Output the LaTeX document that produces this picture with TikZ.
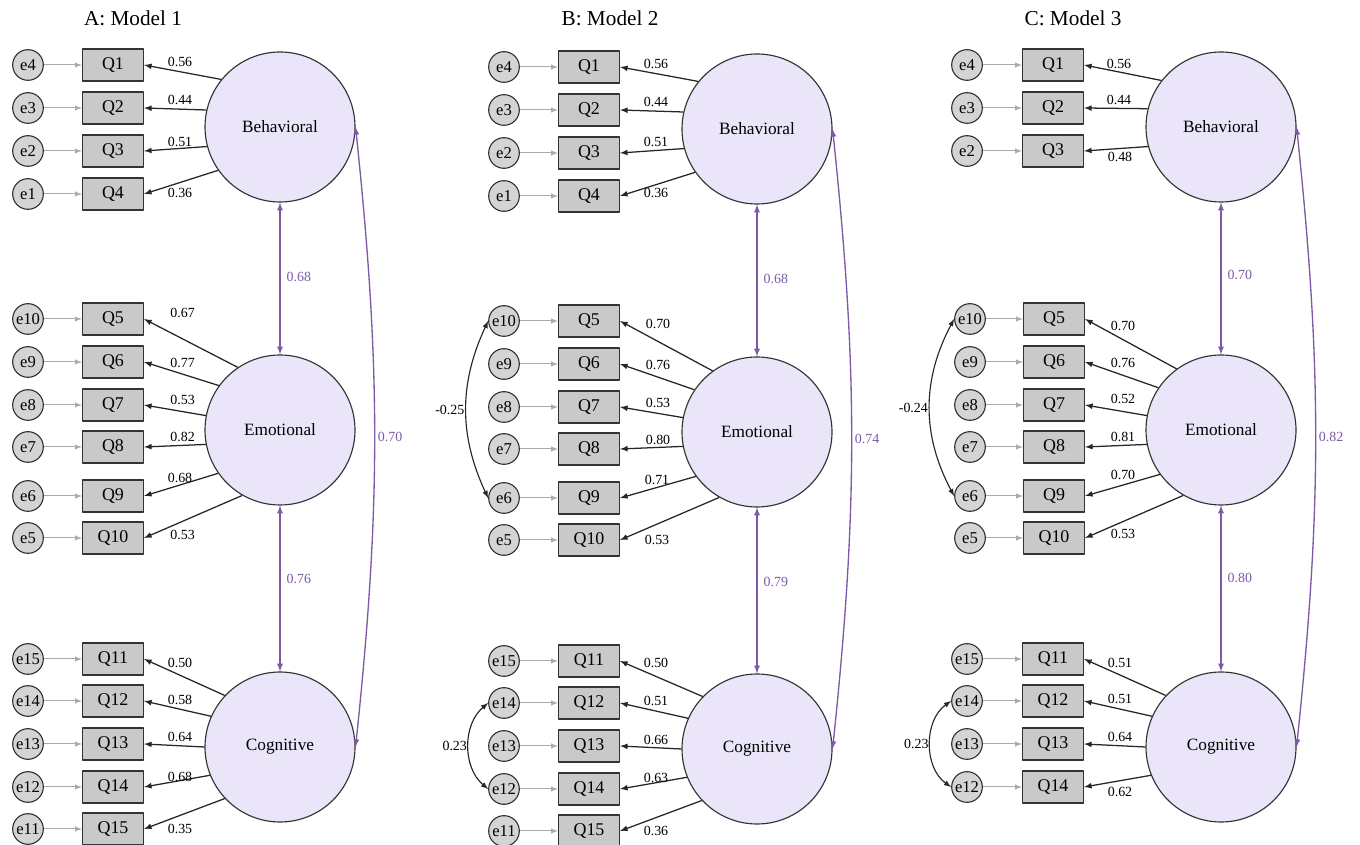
\documentclass[tikz,border=0pt]{standalone}
\usepackage{fontspec}
\setmainfont{Liberation Serif}
\definecolor{factfill}{HTML}{EAE5F9}
\definecolor{boxfill}{HTML}{C9C9C9}
\definecolor{errfill}{HTML}{D4D4D4}
\definecolor{edgedark}{HTML}{333333}
\definecolor{errline}{HTML}{ABABAB}
\definecolor{corrpurple}{HTML}{7D5AA6}
\begin{document}
\begin{tikzpicture}[>=latex,line join=bevel,
  factor/.style={circle,draw=edgedark,line width=0.85bp,fill=factfill,minimum size=112.5bp,inner sep=0pt,font=\fontsize{13}{15}\selectfont},
  item/.style={rectangle,draw=edgedark,line width=0.85bp,fill=boxfill,minimum width=45.75bp,minimum height=24bp,inner sep=0pt,font=\fontsize{13.5}{15}\selectfont},
  err/.style={circle,draw=edgedark,line width=0.85bp,fill=errfill,minimum size=23bp,inner sep=0pt,font=\fontsize{12.5}{13}\selectfont},
  title/.style={font=\fontsize{16}{18}\selectfont},
  load/.style={font=\fontsize{10.5}{12}\selectfont},
  corrlab/.style={font=\fontsize{10.5}{12}\selectfont,text=corrpurple},
  errarrow/.style={->,draw=errline,line width=0.75bp},
  loadarrow/.style={->,draw=black!85,line width=0.95bp},
  corrarrow/.style={<->,draw=corrpurple,line width=1bp},
  covarrow/.style={<->,draw=black!85,line width=0.85bp},
]
\useasboundingbox (0bp,0bp) rectangle (1020bp,633.75bp);
%% A: Model 1
\node (title_a) at (99.75bp,620.25bp) [title] {A: Model 1};
\node (beh_a) at (210bp,538.5bp) [factor] {Behavioral};
\node (emo_a) at (210bp,311.25bp) [factor] {Emotional};
\node (cog_a) at (210bp,73.5bp) [factor] {Cognitive};
%
\node (q1_a) at (84.75bp,585bp) [item] {Q1};
\node (q2_a) at (84.75bp,552.75bp) [item] {Q2};
\node (q3_a) at (84.75bp,520.5bp) [item] {Q3};
\node (q4_a) at (84.75bp,488.25bp) [item] {Q4};
\node (q5_a) at (84.75bp,394.5bp) [item] {Q5};
\node (q6_a) at (84.75bp,362.25bp) [item] {Q6};
\node (q7_a) at (84.75bp,330bp) [item] {Q7};
\node (q8_a) at (84.75bp,298.5bp) [item] {Q8};
\node (q9_a) at (84.75bp,261.75bp) [item] {Q9};
\node (q10_a) at (84.75bp,230.25bp) [item] {Q10};
\node (q11_a) at (84.75bp,139.5bp) [item] {Q11};
\node (q12_a) at (84.75bp,108bp) [item] {Q12};
\node (q13_a) at (84.75bp,75.75bp) [item] {Q13};
\node (q14_a) at (84.75bp,43.5bp) [item] {Q14};
\node (q15_a) at (84.75bp,12bp) [item] {Q15};
%
\node (e4_a) at (21bp,585bp) [err] {e4};
\node (e3_a) at (21bp,552.75bp) [err] {e3};
\node (e2_a) at (21bp,520.5bp) [err] {e2};
\node (e1_a) at (21bp,488.25bp) [err] {e1};
\node (e10_a) at (21bp,394.5bp) [err] {e10};
\node (e9_a) at (21bp,362.25bp) [err] {e9};
\node (e8_a) at (21bp,330bp) [err] {e8};
\node (e7_a) at (21bp,298.5bp) [err] {e7};
\node (e6_a) at (21bp,261.75bp) [err] {e6};
\node (e5_a) at (21bp,230.25bp) [err] {e5};
\node (e15_a) at (21bp,139.5bp) [err] {e15};
\node (e14_a) at (21bp,108bp) [err] {e14};
\node (e13_a) at (21bp,75.75bp) [err] {e13};
\node (e12_a) at (21bp,43.5bp) [err] {e12};
\node (e11_a) at (21bp,12bp) [err] {e11};
%
\draw [errarrow] (e4_a) -- (q1_a);
\draw [errarrow] (e3_a) -- (q2_a);
\draw [errarrow] (e2_a) -- (q3_a);
\draw [errarrow] (e1_a) -- (q4_a);
\draw [errarrow] (e10_a) -- (q5_a);
\draw [errarrow] (e9_a) -- (q6_a);
\draw [errarrow] (e8_a) -- (q7_a);
\draw [errarrow] (e7_a) -- (q8_a);
\draw [errarrow] (e6_a) -- (q9_a);
\draw [errarrow] (e5_a) -- (q10_a);
\draw [errarrow] (e15_a) -- (q11_a);
\draw [errarrow] (e14_a) -- (q12_a);
\draw [errarrow] (e13_a) -- (q13_a);
\draw [errarrow] (e12_a) -- (q14_a);
\draw [errarrow] (e11_a) -- (q15_a);
%
\draw [loadarrow] (beh_a.141) -- (q1_a.east);
\draw [loadarrow] (beh_a.167) -- (q2_a.east);
\draw [loadarrow] (beh_a.195) -- (q3_a.east);
\draw [loadarrow] (beh_a.215) -- (q4_a.east);
\draw [loadarrow] (emo_a.124) -- (q5_a.east);
\draw [loadarrow] (emo_a.144) -- (q6_a.east);
\draw [loadarrow] (emo_a.169) -- (q7_a.east);
\draw [loadarrow] (emo_a.191) -- (q8_a.east);
\draw [loadarrow] (emo_a.215) -- (q9_a.east);
\draw [loadarrow] (emo_a.240) -- (q10_a.east);
\draw [loadarrow] (cog_a.137) -- (q11_a.east);
\draw [loadarrow] (cog_a.156) -- (q12_a.east);
\draw [loadarrow] (cog_a.180) -- (q13_a.east);
\draw [loadarrow] (cog_a.202) -- (q14_a.east);
\draw [loadarrow] (cog_a.223) -- (q15_a.east);
%
\node (l1_a) at (135bp,587.25bp) [load] {0.56};
\node (l2_a) at (135bp,558.75bp) [load] {0.44};
\node (l3_a) at (135bp,527.25bp) [load] {0.51};
\node (l4_a) at (135bp,489bp) [load] {0.36};
\node (l5_a) at (137bp,399bp) [load] {0.67};
\node (l6_a) at (137bp,361.5bp) [load] {0.77};
\node (l7_a) at (137bp,333.75bp) [load] {0.53};
\node (l8_a) at (137bp,306bp) [load] {0.82};
\node (l9_a) at (135bp,275.25bp) [load] {0.68};
\node (l10_a) at (137bp,232.5bp) [load] {0.53};
\node (l11_a) at (135bp,136.5bp) [load] {0.50};
\node (l12_a) at (135bp,108.75bp) [load] {0.58};
\node (l13_a) at (135bp,81bp) [load] {0.64};
\node (l14_a) at (135bp,51bp) [load] {0.68};
\node (l15_a) at (135bp,12bp) [load] {0.35};
%
\draw [corrarrow] (beh_a) -- (emo_a);
\draw [corrarrow] (emo_a) -- (cog_a);
\draw [corrarrow] (beh_a.east) to[bend left=6] node[corrlab,right,inner sep=2pt] {0.70} (cog_a.east);
\node (r1_a) at (211.5bp,426bp) [corrlab,anchor=west] {0.68};
\node (r2_a) at (211.5bp,199.5bp) [corrlab,anchor=west] {0.76};
%% B: Model 2
\node (title_b) at (457.5bp,620.25bp) [title] {B: Model 2};
\node (beh_b) at (567.75bp,537bp) [factor] {Behavioral};
\node (emo_b) at (567.75bp,309.75bp) [factor] {Emotional};
\node (cog_b) at (567.75bp,72bp) [factor] {Cognitive};
%
\node (q1_b) at (441.75bp,583.5bp) [item] {Q1};
\node (q2_b) at (441.75bp,551.25bp) [item] {Q2};
\node (q3_b) at (441.75bp,519bp) [item] {Q3};
\node (q4_b) at (441.75bp,486.75bp) [item] {Q4};
\node (q5_b) at (441.75bp,393bp) [item] {Q5};
\node (q6_b) at (441.75bp,360.75bp) [item] {Q6};
\node (q7_b) at (441.75bp,328.5bp) [item] {Q7};
\node (q8_b) at (441.75bp,297bp) [item] {Q8};
\node (q9_b) at (441.75bp,260.25bp) [item] {Q9};
\node (q10_b) at (441.75bp,228.75bp) [item] {Q10};
\node (q11_b) at (441.75bp,138bp) [item] {Q11};
\node (q12_b) at (441.75bp,106.5bp) [item] {Q12};
\node (q13_b) at (441.75bp,74.25bp) [item] {Q13};
\node (q14_b) at (441.75bp,42bp) [item] {Q14};
\node (q15_b) at (441.75bp,10.5bp) [item] {Q15};
%
\node (e4_b) at (378bp,583.5bp) [err] {e4};
\node (e3_b) at (378bp,551.25bp) [err] {e3};
\node (e2_b) at (378bp,519bp) [err] {e2};
\node (e1_b) at (378bp,486.75bp) [err] {e1};
\node (e10_b) at (378bp,393bp) [err] {e10};
\node (e9_b) at (378bp,360.75bp) [err] {e9};
\node (e8_b) at (378bp,328.5bp) [err] {e8};
\node (e7_b) at (378bp,297bp) [err] {e7};
\node (e6_b) at (378bp,260.25bp) [err] {e6};
\node (e5_b) at (378bp,228.75bp) [err] {e5};
\node (e15_b) at (378bp,138bp) [err] {e15};
\node (e14_b) at (378bp,106.5bp) [err] {e14};
\node (e13_b) at (378bp,74.25bp) [err] {e13};
\node (e12_b) at (378bp,42bp) [err] {e12};
\node (e11_b) at (378bp,10.5bp) [err] {e11};
%
\draw [errarrow] (e4_b) -- (q1_b);
\draw [errarrow] (e3_b) -- (q2_b);
\draw [errarrow] (e2_b) -- (q3_b);
\draw [errarrow] (e1_b) -- (q4_b);
\draw [errarrow] (e10_b) -- (q5_b);
\draw [errarrow] (e9_b) -- (q6_b);
\draw [errarrow] (e8_b) -- (q7_b);
\draw [errarrow] (e7_b) -- (q8_b);
\draw [errarrow] (e6_b) -- (q9_b);
\draw [errarrow] (e5_b) -- (q10_b);
\draw [errarrow] (e15_b) -- (q11_b);
\draw [errarrow] (e14_b) -- (q12_b);
\draw [errarrow] (e13_b) -- (q13_b);
\draw [errarrow] (e12_b) -- (q14_b);
\draw [errarrow] (e11_b) -- (q15_b);
%
\draw [loadarrow] (beh_b.141) -- (q1_b.east);
\draw [loadarrow] (beh_b.167) -- (q2_b.east);
\draw [loadarrow] (beh_b.195) -- (q3_b.east);
\draw [loadarrow] (beh_b.215) -- (q4_b.east);
\draw [loadarrow] (emo_b.126) -- (q5_b.east);
\draw [loadarrow] (emo_b.146) -- (q6_b.east);
\draw [loadarrow] (emo_b.169) -- (q7_b.east);
\draw [loadarrow] (emo_b.191) -- (q8_b.east);
\draw [loadarrow] (emo_b.216) -- (q9_b.east);
\draw [loadarrow] (emo_b.240) -- (q10_b.east);
\draw [loadarrow] (cog_b.136) -- (q11_b.east);
\draw [loadarrow] (cog_b.156) -- (q12_b.east);
\draw [loadarrow] (cog_b.180) -- (q13_b.east);
\draw [loadarrow] (cog_b.202) -- (q14_b.east);
\draw [loadarrow] (cog_b.223) -- (q15_b.east);
%
\node (l1_b) at (492bp,585.75bp) [load] {0.56};
\node (l2_b) at (492bp,557.25bp) [load] {0.44};
\node (l3_b) at (492bp,527.25bp) [load] {0.51};
\node (l4_b) at (492bp,489bp) [load] {0.36};
\node (l5_b) at (493.5bp,390.75bp) [load] {0.70};
\node (l6_b) at (493.5bp,360bp) [load] {0.76};
\node (l7_b) at (493.5bp,331.5bp) [load] {0.53};
\node (l8_b) at (493.5bp,303.75bp) [load] {0.80};
\node (l9_b) at (492.75bp,273.75bp) [load] {0.71};
\node (l10_b) at (492.75bp,228.75bp) [load] {0.53};
\node (l11_b) at (492bp,136.5bp) [load] {0.50};
\node (l12_b) at (492bp,108bp) [load] {0.51};
\node (l13_b) at (492bp,78.75bp) [load] {0.66};
\node (l14_b) at (492bp,50.25bp) [load] {0.63};
\node (l15_b) at (492bp,10.5bp) [load] {0.36};
%
\draw [corrarrow] (beh_b) -- (emo_b);
\draw [corrarrow] (emo_b) -- (cog_b);
\draw [corrarrow] (beh_b.east) to[bend left=6] node[corrlab,right,inner sep=2pt] {0.74} (cog_b.east);
\node (r1_b) at (569.25bp,424.5bp) [corrlab,anchor=west] {0.68};
\node (r2_b) at (569.25bp,197.25bp) [corrlab,anchor=west] {0.79};
%
\draw [covarrow] (e10_b.west) to[bend right=25] node[left,inner sep=1pt,load] {-0.25} (e6_b.west);
\draw [covarrow] (e14_b.west) to[bend right=50] node[left,inner sep=1pt,load] {0.23} (e12_b.west);
%% C: Model 3
\node (title_c) at (804.75bp,620.25bp) [title] {C: Model 3};
\node (beh_c) at (915.75bp,538.5bp) [factor] {Behavioral};
\node (emo_c) at (915.75bp,311.25bp) [factor] {Emotional};
\node (cog_c) at (915.75bp,73.5bp) [factor] {Cognitive};
%
\node (q1_c) at (789.75bp,585bp) [item] {Q1};
\node (q2_c) at (789.75bp,552.75bp) [item] {Q2};
\node (q3_c) at (789.75bp,520.5bp) [item] {Q3};
\node (q5_c) at (790.5bp,394.5bp) [item] {Q5};
\node (q6_c) at (790.5bp,362.25bp) [item] {Q6};
\node (q7_c) at (790.5bp,330bp) [item] {Q7};
\node (q8_c) at (790.5bp,298.5bp) [item] {Q8};
\node (q9_c) at (790.5bp,261.75bp) [item] {Q9};
\node (q10_c) at (790.5bp,230.25bp) [item] {Q10};
\node (q11_c) at (789.75bp,139.5bp) [item] {Q11};
\node (q12_c) at (789.75bp,108bp) [item] {Q12};
\node (q13_c) at (789.75bp,75.75bp) [item] {Q13};
\node (q14_c) at (789.75bp,43.5bp) [item] {Q14};
%
\node (e4_c) at (725.25bp,585bp) [err] {e4};
\node (e3_c) at (725.25bp,552.75bp) [err] {e3};
\node (e2_c) at (725.25bp,520.5bp) [err] {e2};
\node (e10_c) at (727.5bp,394.5bp) [err] {e10};
\node (e9_c) at (727.5bp,362.25bp) [err] {e9};
\node (e8_c) at (727.5bp,330bp) [err] {e8};
\node (e7_c) at (727.5bp,298.5bp) [err] {e7};
\node (e6_c) at (727.5bp,261.75bp) [err] {e6};
\node (e5_c) at (727.5bp,230.25bp) [err] {e5};
\node (e15_c) at (725.25bp,139.5bp) [err] {e15};
\node (e14_c) at (725.25bp,108bp) [err] {e14};
\node (e13_c) at (725.25bp,75.75bp) [err] {e13};
\node (e12_c) at (725.25bp,43.5bp) [err] {e12};
%
\draw [errarrow] (e4_c) -- (q1_c);
\draw [errarrow] (e3_c) -- (q2_c);
\draw [errarrow] (e2_c) -- (q3_c);
\draw [errarrow] (e10_c) -- (q5_c);
\draw [errarrow] (e9_c) -- (q6_c);
\draw [errarrow] (e8_c) -- (q7_c);
\draw [errarrow] (e7_c) -- (q8_c);
\draw [errarrow] (e6_c) -- (q9_c);
\draw [errarrow] (e5_c) -- (q10_c);
\draw [errarrow] (e15_c) -- (q11_c);
\draw [errarrow] (e14_c) -- (q12_c);
\draw [errarrow] (e13_c) -- (q13_c);
\draw [errarrow] (e12_c) -- (q14_c);
%
\draw [loadarrow] (beh_c.142) -- (q1_c.east);
\draw [loadarrow] (beh_c.166) -- (q2_c.east);
\draw [loadarrow] (beh_c.195) -- (q3_c.east);
\draw [loadarrow] (emo_c.126) -- (q5_c.east);
\draw [loadarrow] (emo_c.146) -- (q6_c.east);
\draw [loadarrow] (emo_c.169) -- (q7_c.east);
\draw [loadarrow] (emo_c.191) -- (q8_c.east);
\draw [loadarrow] (emo_c.216) -- (q9_c.east);
\draw [loadarrow] (emo_c.240) -- (q10_c.east);
\draw [loadarrow] (cog_c.137) -- (q11_c.east);
\draw [loadarrow] (cog_c.156) -- (q12_c.east);
\draw [loadarrow] (cog_c.180) -- (q13_c.east);
\draw [loadarrow] (cog_c.202) -- (q14_c.east);
%
\node (l1_c) at (839.25bp,585.75bp) [load] {0.56};
\node (l2_c) at (839.25bp,558.75bp) [load] {0.44};
\node (l3_c) at (840bp,516bp) [load] {0.48};
\node (l5_c) at (842.25bp,389.25bp) [load] {0.70};
\node (l6_c) at (842.25bp,361.5bp) [load] {0.76};
\node (l7_c) at (842.25bp,334.5bp) [load] {0.52};
\node (l8_c) at (842.25bp,306bp) [load] {0.81};
\node (l9_c) at (842.25bp,277.5bp) [load] {0.70};
\node (l10_c) at (842.25bp,233.25bp) [load] {0.53};
\node (l11_c) at (840bp,136.5bp) [load] {0.51};
\node (l12_c) at (840bp,109.5bp) [load] {0.51};
\node (l13_c) at (840bp,81bp) [load] {0.64};
\node (l14_c) at (840bp,39.75bp) [load] {0.62};
%
\draw [corrarrow] (beh_c) -- (emo_c);
\draw [corrarrow] (emo_c) -- (cog_c);
\draw [corrarrow] (beh_c.east) to[bend left=6] node[corrlab,right,inner sep=2pt] {0.82} (cog_c.east);
\node (r1_c) at (917.25bp,427.5bp) [corrlab,anchor=west] {0.70};
\node (r2_c) at (917.25bp,200.25bp) [corrlab,anchor=west] {0.80};
%
\draw [covarrow] (e10_c.west) to[bend right=28] node[left,inner sep=1pt,load] {-0.24} (e6_c.west);
\draw [covarrow] (e14_c.west) to[bend right=55] node[left,inner sep=1pt,load] {0.23} (e12_c.west);
%
\end{tikzpicture}
\end{document}
